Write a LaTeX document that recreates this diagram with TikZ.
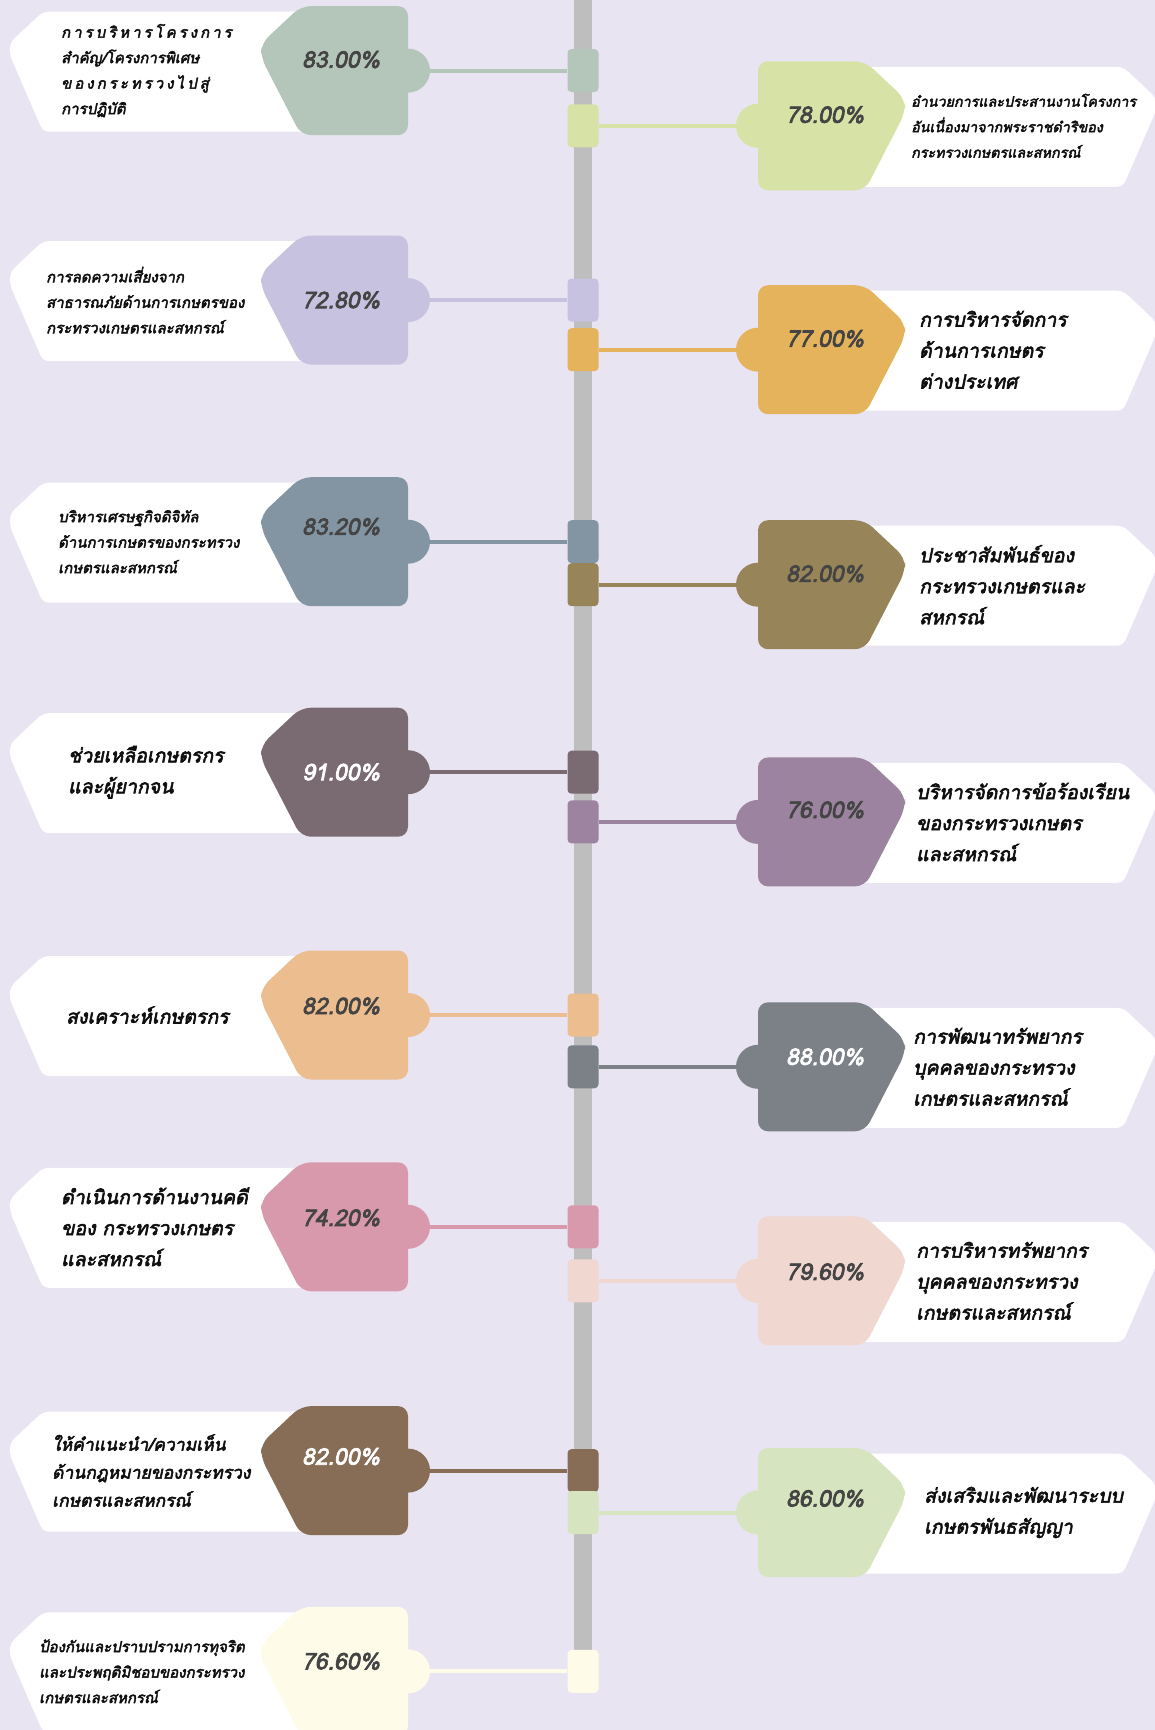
\documentclass[tikz,border=0pt]{standalone}
\usepackage{fontspec}
\usepackage{xcolor}
\usepackage{tikz}
\newfontfamily\thaifont[Script=Thai, FakeSlant=0.2, FakeBold=3]{Loma}
\definecolor{kasbg}{RGB}{232,228,241}
\definecolor{kasbar}{RGB}{190,190,190}
\definecolor{kasink}{RGB}{15,15,15}
\definecolor{kasnum}{RGB}{68,68,68}
\definecolor{kassage}{RGB}{180,197,185}
\definecolor{kaslime}{RGB}{215,226,166}
\definecolor{kaslav}{RGB}{199,194,223}
\definecolor{kasgold}{RGB}{229,179,92}
\definecolor{kasslate}{RGB}{131,149,163}
\definecolor{kasolive}{RGB}{151,132,89}
\definecolor{kasmauve}{RGB}{122,106,113}
\definecolor{kaspurple}{RGB}{156,131,159}
\definecolor{kaspeach}{RGB}{235,189,143}
\definecolor{kasgray}{RGB}{124,129,136}
\definecolor{kaspink}{RGB}{217,153,173}
\definecolor{kasblush}{RGB}{240,215,208}
\definecolor{kasbrown}{RGB}{135,108,86}
\definecolor{kaspale}{RGB}{214,228,191}
\definecolor{kascream}{RGB}{254,252,233}
\tikzset{
  tagwhite/.style={fill=white, rounded corners=6pt},
  tagbody/.style={rounded corners=10pt},
  linkline/.style={line width=4pt},
  barbox/.style={rectangle, rounded corners=4pt, minimum width=31pt, minimum height=43pt, inner sep=0pt},
  pctlabel/.style={font=\thaifont\fontsize{23}{27}\selectfont, inner sep=0pt},
  lbltiny/.style={font=\thaifont\fontsize{14.3}{25.5}\selectfont, text=kasink, align=left, inner sep=0pt},
  lblsmall/.style={font=\thaifont\fontsize{15}{25.5}\selectfont, text=kasink, align=left, inner sep=0pt},
  lblmid/.style={font=\thaifont\fontsize{17.5}{28}\selectfont, text=kasink, align=left, inner sep=0pt},
  lbllarge/.style={font=\thaifont\fontsize{19.5}{31}\selectfont, text=kasink, align=left, inner sep=0pt}
}
\begin{document}
\begin{tikzpicture}[x=1pt, y=-1pt]

\useasboundingbox (0,0) rectangle (1155,1730);
\fill[kasbg] (0,0) rectangle (1155,1730);
\clip (0,0) rectangle (1155,1730);
\fill[kasbar] (574,0) rectangle (592,1652);

\foreach \id/\yc/\side/\col/\pct/\pcol/\dy/\tx/\lbl/\txt in {
  a/70.6/-1/kassage/83.00\%/kasnum/-11/61/lblsmall/{{\addfontfeatures{LetterSpace=20}การบริหารโครงการ}\\สำคัญ/โครงการพิเศษ\\{\addfontfeatures{LetterSpace=20}ของกระทรวงไปสู่}\\การปฏิบัติ},
  b/125.8/1/kaslime/78.00\%/kasnum/-11/911/lbltiny/{อำนวยการและประสานงานโครงการ\\อันเนื่องมาจากพระราชดำริของ\\กระทรวงเกษตรและสหกรณ์},
  c/300.1/-1/kaslav/72.80\%/kasnum/0/46/lblsmall/{การลดความเสี่ยงจาก\\สาธารณภัยด้านการเกษตรของ\\กระทรวงเกษตรและสหกรณ์},
  d/349.7/1/kasgold/77.00\%/kasnum/-11/919/lbllarge/{การบริหารจัดการ\\ด้านการเกษตร\\ต่างประเทศ},
  e/541.7/-1/kasslate/83.20\%/kasnum/-15/58/lblsmall/{บริหารเศรษฐกิจดิจิทัล\\ด้านการเกษตรของกระทรวง\\เกษตรและสหกรณ์},
  f/584.7/1/kasolive/82.00\%/kasnum/-11/919/lbllarge/{ประชาสัมพันธ์ของ\\กระทรวงเกษตรและ\\สหกรณ์},
  g/772.2/-1/kasmauve/91.00\%/white/0/68/lbllarge/{ช่วยเหลือเกษตรกร\\และผู้ยากจน},
  h/821.9/1/kaspurple/76.00\%/kasnum/-12/916/lbllarge/{บริหารจัดการข้อร้องเรียน\\ของกระทรวงเกษตร\\และสหกรณ์},
  i/1015/-1/kaspeach/82.00\%/kasnum/-9/66/lbllarge/{สงเคราะห์เกษตรกร},
  j/1066.8/1/kasgray/88.00\%/white/-10/913/lbllarge/{การพัฒนาทรัพยากร\\บุคคลของกระทรวง\\เกษตรและสหกรณ์},
  k/1226.8/-1/kaspink/74.20\%/kasnum/-9/61/lbllarge/{ดำเนินการด้านงานคดี\\ของ กระทรวงเกษตร\\และสหกรณ์},
  l/1280.8/1/kasblush/79.60\%/kasnum/-9/916/lbllarge/{การบริหารทรัพยากร\\บุคคลของกระทรวง\\เกษตรและสหกรณ์},
  m/1470.6/-1/kasbrown/82.00\%/white/-14/52/lblmid/{ให้คำแนะนำ/ความเห็น\\ด้านกฎหมายของกระทรวง\\เกษตรและสหกรณ์},
  n/1512.5/1/kaspale/86.00\%/kasnum/-14/924/lbllarge/{ส่งเสริมและพัฒนาระบบ\\เกษตรพันธสัญญา},
  o/1671.3/-1/kascream/76.60\%/kasnum/-10/39/lblsmall/{ป้องกันและปราบปรามการทุจริต\\และประพฤติมิชอบของกระทรวง\\เกษตรและสหกรณ์}}{
  \begin{scope}[shift={(583,\yc)}, xscale=\side]
    \fill[tagwhite] (250,-59) -- (540,-59) -- (573,-28) -- (573,-15) -- (540,61) -- (250,61) -- cycle;
    \fill[tagbody, fill=\col] (175,-64.5) -- (282,-64.5) -- (322,-27) -- (322,-13) -- (282,64.5) -- (175,64.5) -- cycle;
    \fill[fill=\col] (175,0) circle[radius=22pt];
    \coordinate (tab\id) at (175,0);
  \end{scope}
  \node[barbox, fill=\col] (sq\id) at (583,\yc) {};
  \draw[linkline, draw=\col] (tab\id) -- (sq\id);
  \node[pctlabel, text=\pcol] (pct\id) at ({583+\side*242},{\yc+\dy}) {\pct};
  \node[\lbl, anchor=west] (lbl\id) at (\tx,\yc) {\txt};
}
\end{tikzpicture}
\end{document}
